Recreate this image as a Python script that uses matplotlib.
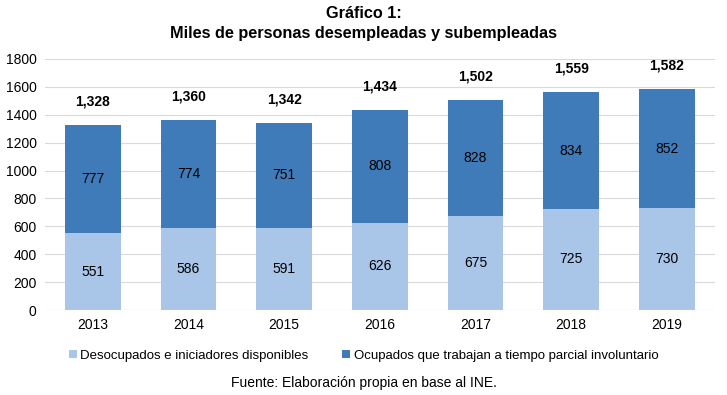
import numpy as np
import matplotlib.pyplot as plt

plt.rcParams['font.family'] = ['Liberation Sans', 'DejaVu Sans']

years = ["2013", "2014", "2015", "2016", "2017", "2018", "2019"]
desocupados = [551, 586, 591, 626, 675, 725, 730]
ocupados = [777, 774, 751, 808, 828, 834, 852]
totals = [1328, 1360, 1342, 1434, 1502, 1559, 1582]

light = "#A9C5E8"
dark = "#3F7BB9"

fig = plt.figure(figsize=(7.27, 3.95), dpi=100)
ax = fig.add_axes([0.062, 0.215, 0.921, 0.636])

x = np.arange(len(years))
w = 0.58
b1 = ax.bar(x, desocupados, w, color=light, label="Desocupados e iniciadores disponibles", zorder=2)
b2 = ax.bar(x, ocupados, w, bottom=desocupados, color=dark,
            label="Ocupados que trabajan a tiempo parcial involuntario", zorder=2)

for i in range(len(years)):
    ax.text(x[i], desocupados[i] / 2, str(desocupados[i]), ha="center", va="center", fontsize=10)
    ax.text(x[i], desocupados[i] + ocupados[i] / 2, str(ocupados[i]), ha="center", va="center", fontsize=10)
    ax.annotate(f"{totals[i]:,}", (x[i], totals[i]), xytext=(0, 17), textcoords="offset points",
                ha="center", va="center", fontsize=10, fontweight="bold")

ax.set_ylim(0, 1800)
ax.set_yticks(range(0, 1801, 200))
ax.set_xlim(-0.5, len(years) - 0.5)
ax.set_xticks(x)
ax.set_xticklabels(years)
ax.tick_params(axis="both", length=0, labelsize=10, pad=6)
ax.grid(axis="y", color="#D9D9D9", linewidth=0.8, zorder=0)
for s in ax.spines.values():
    s.set_visible(False)
ax.axhline(0, color="#D9D9D9", linewidth=0.8, zorder=1)

fig.text(0.5, 0.965, "Gráfico 1:", ha="center", va="center", fontsize=11.7, fontweight="bold")
fig.text(0.5, 0.915, "Miles de personas desempleadas y subempleadas", ha="center", va="center",
         fontsize=11.7, fontweight="bold")

fig.legend(handles=[b1, b2], loc="center", bbox_to_anchor=(0.5, 0.1), ncol=2, frameon=False,
           fontsize=9.5, handlelength=0.6, handleheight=0.6, handletextpad=0.25, columnspacing=2.6)
fig.text(0.5, 0.03, "Fuente: Elaboración propia en base al INE.", ha="center", va="center", fontsize=10)

fig.savefig("out.png", dpi=100)
